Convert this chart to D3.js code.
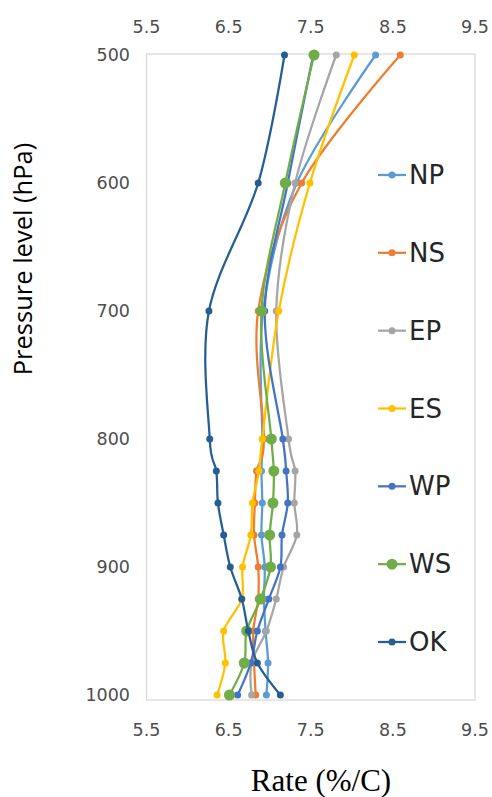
<!DOCTYPE html>
<html>
<head>
<meta charset="utf-8">
<script src="https://cdn.jsdelivr.net/npm/d3@7"></script>
<style>
  html, body { margin: 0; padding: 0; background: #fff; }
</style>
</head>
<body>
<div class="svg-container"></div>
<script>
  // pressure levels (hPa)
  var levels = [500, 600, 700, 800, 825, 850, 875, 900, 925, 950, 975, 1000];
  var xTicks = [5.5, 6.5, 7.5, 8.5, 9.5];
  var yTicks = [500, 600, 700, 800, 900, 1000];

  var seriesNames = ['NP', 'NS', 'EP', 'ES', 'WP', 'WS', 'OK'];
  var NP = [8.29, 7.33, 6.92, 6.91, 6.90, 6.91, 6.90, 6.94, 6.93, 6.95, 6.98, 6.96];
  var NS = [8.59, 7.39, 6.86, 6.93, 6.84, 6.82, 6.81, 6.86, 6.86, 6.80, 6.81, 6.83];
  var EP = [7.81, 7.31, 7.08, 7.23, 7.31, 7.30, 7.33, 7.17, 7.08, 6.96, 6.78, 6.78];
  var ES = [8.03, 7.49, 7.11, 6.91, 6.87, 6.79, 6.77, 6.67, 6.66, 6.44, 6.46, 6.36];
  var WP = [7.53, 7.22, 6.94, 7.16, 7.20, 7.22, 7.15, 7.13, 6.99, 6.85, 6.77, 6.61];
  var WS = [7.54, 7.19, 6.90, 7.02, 7.05, 7.04, 7.00, 7.01, 6.89, 6.72, 6.69, 6.51];
  var OK = [7.18, 6.86, 6.26, 6.27, 6.35, 6.37, 6.44, 6.52, 6.66, 6.74, 6.85, 7.13];

  var colors = {
    NP: '#5b9bd5', NS: '#ed7d31', EP: '#a5a5a5', ES: '#ffc000',
    WP: '#4472c4', WS: '#70ad47', OK: '#255e91'
  };
  var values = { NP: NP, NS: NS, EP: EP, ES: ES, WP: WP, WS: WS, OK: OK };

  var d3 = window.d3;
  var width = 492, height = 797;

  var svg = d3.select('.svg-container')
    .append('svg')
    .attr('width', width)
    .attr('height', height);

  var x = d3.scaleLinear().domain([5.5, 9.5]).range([146.5, 475]);
  var y = d3.scaleLinear().domain([500, 1000]).range([55, 695]);

  // plot frame
  svg.append('rect')
    .attr('x', x(5.5))
    .attr('y', y(500) - 1)
    .attr('width', x(9.5) - x(5.5))
    .attr('height', y(1000) - y(500) + 6)
    .style('fill', 'none')
    .style('stroke', '#d9d9d9')
    .style('stroke-width', '1.3px');

  var tickFont = '"DejaVu Sans", Verdana, sans-serif';

  // x tick labels, top and bottom
  [27, 730].forEach(function(ty) {
    svg.append('g').selectAll('text')
      .data(xTicks)
      .enter().append('text')
      .attr('x', function(d) { return x(d); })
      .attr('y', ty)
      .attr('text-anchor', 'middle')
      .attr('dominant-baseline', 'central')
      .style('font-family', tickFont)
      .style('font-size', '17.5px')
      .style('fill', '#4d4d4d')
      .text(function(d) { return d3.format('.1f')(d); });
  });

  // y tick labels
  svg.append('g').selectAll('text')
    .data(yTicks)
    .enter().append('text')
    .attr('x', 130)
    .attr('y', function(d) { return y(d); })
    .attr('text-anchor', 'end')
    .attr('dominant-baseline', 'central')
    .style('font-family', tickFont)
    .style('font-size', '17.5px')
    .style('fill', '#4d4d4d')
    .text(function(d) { return d; });

  // axis titles
  svg.append('text')
    .attr('transform', 'translate(22,' + 259 + ') rotate(-90)')
    .attr('text-anchor', 'middle')
    .attr('dominant-baseline', 'central')
    .style('font-family', '"Open Sans", sans-serif')
    .style('font-size', '25.5px')
    .style('fill', '#000')
    .text('Pressure level (hPa)');

  svg.append('text')
    .attr('x', 321)
    .attr('y', 791)
    .attr('text-anchor', 'middle')
    .style('font-family', '"Liberation Serif", "Times New Roman", serif')
    .style('font-size', '31px')
    .style('fill', '#000')
    .text('Rate (%/C)');

  var line = d3.line()
    .x(function(d) { return x(d.v); })
    .y(function(d) { return y(d.p); })
    .curve(d3.curveCardinal.tension(0));

  // draw series in legend order
  seriesNames.forEach(function(name) {
    var pts = levels.map(function(p, i) { return { p: p, v: values[name][i] }; });
    var r = name === 'WS' ? 5.5 : 3.5;
    var g = svg.append('g').attr('class', 'series-' + name);

    g.append('path')
      .datum(pts)
      .attr('d', line)
      .style('fill', 'none')
      .style('stroke', colors[name])
      .style('stroke-width', '2.25px');

    g.selectAll('circle')
      .data(pts)
      .enter().append('circle')
      .attr('cx', function(d) { return x(d.v); })
      .attr('cy', function(d) { return y(d.p); })
      .attr('r', r)
      .style('fill', colors[name]);
  });

  // legend
  var legendY = d3.scalePoint().domain(seriesNames).range([175, 642]);
  var legend = svg.append('g').attr('class', 'legend');
  seriesNames.forEach(function(name) {
    var ly = legendY(name);
    legend.append('line')
      .attr('x1', 378).attr('x2', 406)
      .attr('y1', ly).attr('y2', ly)
      .style('stroke', colors[name])
      .style('stroke-width', '2.25px');
    legend.append('circle')
      .attr('cx', 392).attr('cy', ly)
      .attr('r', name === 'WS' ? 5.5 : 3.5)
      .style('fill', colors[name]);
    legend.append('text')
      .attr('x', 409).attr('y', ly)
      .attr('dominant-baseline', 'central')
      .style('font-family', tickFont)
      .style('font-size', '26px')
      .style('fill', '#262626')
      .text(name);
  });
</script>
</body>
</html>
